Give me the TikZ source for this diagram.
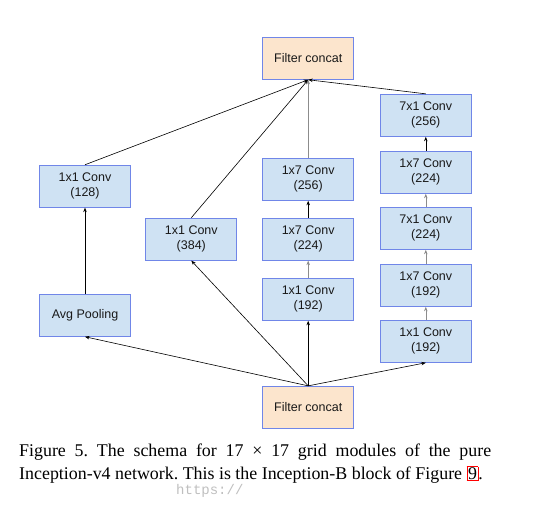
\documentclass[tikz,border=0pt]{standalone}
\usepackage{fontspec}
\setmainfont{Liberation Serif}
\newfontfamily\boxfont{Liberation Sans}
\newfontfamily\wmfont{Liberation Mono}
\usetikzlibrary{arrows.meta}
\definecolor{boxblue}{RGB}{207,226,243}
\definecolor{boxedge}{RGB}{112,134,232}
\definecolor{concatfill}{RGB}{252,229,205}
\definecolor{txt}{RGB}{25,25,25}
\tikzset{
  blk/.style={draw=boxedge, line width=0.9pt, fill=boxblue, minimum width=91pt, minimum height=42pt,
    inner sep=0pt, align=center, text=txt, font=\boxfont\fontsize{12.5}{15}\selectfont},
  cat/.style={blk, fill=concatfill},
  conn/.style={line width=0.6pt, -{Stealth[length=4.5pt,width=3.5pt]}},
  grayconn/.style={conn, draw=black!45}
}
\begin{document}
\begin{tikzpicture}[x=1pt,y=-1pt]
\useasboundingbox (0,0) rectangle (546,516);
\node[cat] (topcat) at (308.2,58.3) {Filter concat};
\node[blk] (c128) at (85,186.2) {1x1 Conv\\(128)};
\node[blk] (c384) at (191.3,239.2) {1x1 Conv\\(384)};
\node[blk] (m256) at (308.2,179.3) {1x7 Conv\\(256)};
\node[blk] (m224) at (308.2,239.2) {1x7 Conv\\(224)};
\node[blk] (m192) at (308.2,299.3) {1x1 Conv\\(192)};
\node[blk] (r256) at (425.8,115.3) {7x1 Conv\\(256)};
\node[blk] (r224a) at (425.8,172.3) {1x7 Conv\\(224)};
\node[blk] (r224b) at (425.8,228.3) {7x1 Conv\\(224)};
\node[blk] (r192a) at (425.8,285.3) {1x7 Conv\\(192)};
\node[blk] (r192b) at (425.8,341.3) {1x1 Conv\\(192)};
\node[blk] (avg) at (85,315.3) {Avg Pooling};
\node[cat] (botcat) at (308.2,407.3) {Filter concat};
% bottom fan-out
\draw[conn] (botcat.north) -- (avg.south);
\draw[conn] (botcat.north) -- (c384.south);
\draw[conn] (botcat.north) -- (m192.south);
\draw[conn] (botcat.north) -- (r192b.south);
% columns
\draw[conn] (avg.north) -- (c128.south);
\draw[grayconn] (m192.north) -- (m224.south);
\draw[conn] (m224.north) -- (m256.south);
\draw[grayconn] (r192b.north) -- (r192a.south);
\draw[grayconn] (r192a.north) -- (r224b.south);
\draw[grayconn] (r224b.north) -- (r224a.south);
\draw[conn] (r224a.north) -- (r256.south);
% fan-in
\draw[conn] (c128.north) -- (topcat.south);
\draw[conn] (c384.north) -- (topcat.south);
\draw[grayconn] (m256.north) -- (topcat.south);
\draw[conn] (r256.north) -- (topcat.south);
% caption
\node[anchor=north west, inner sep=0pt, text width=472pt, align=justify,
      font=\frenchspacing\fontsize{17.9}{22.7}\selectfont] (cap) at (19,444)
 {Figure 5. The schema for 17 × 17 grid modules of the pure\linebreak
  Inception-v4 network. This is the Inception-B block of Figure~{\fboxsep=0.8pt\fboxrule=0.6pt\fcolorbox{red}{white}{9}}.};
\node[anchor=base west, inner sep=0pt, text=black!25, font=\wmfont\fontsize{14}{16}\selectfont] (wm) at (176,494) {https://};
\end{tikzpicture}
\end{document}
